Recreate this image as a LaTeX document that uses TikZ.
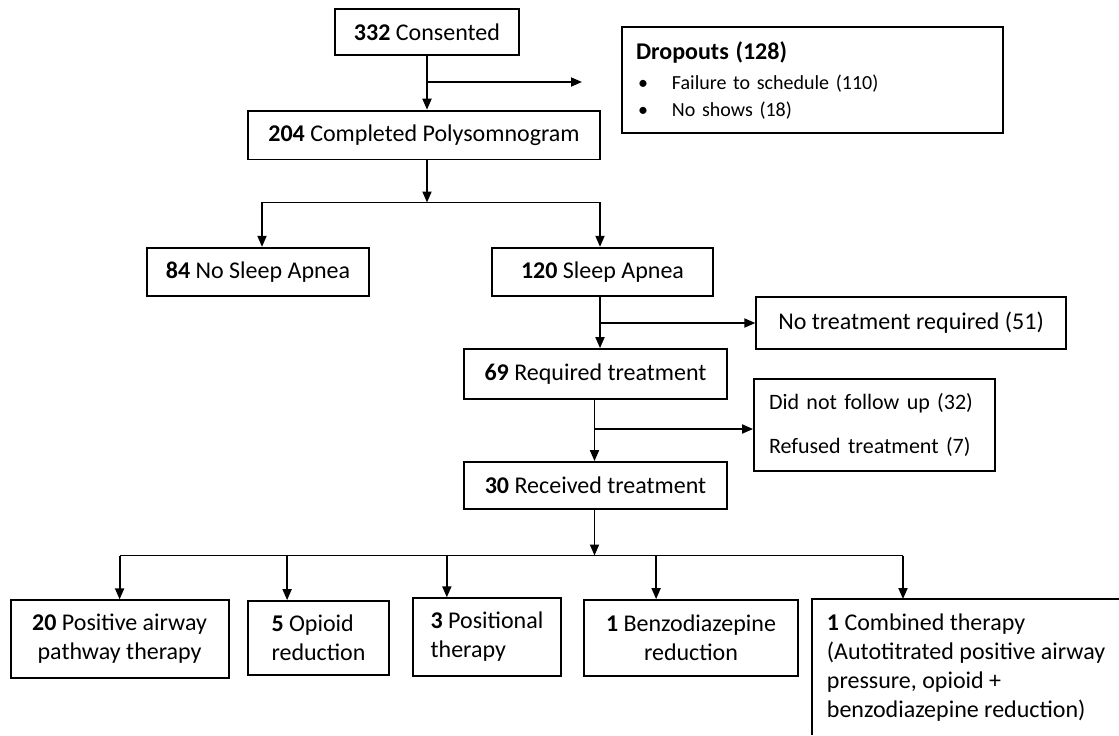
\documentclass[tikz,border=0pt]{standalone}
\usepackage{fontspec}
\setmainfont{Carlito}
\usetikzlibrary{arrows.meta,positioning}

\begin{document}
\begin{tikzpicture}[
    >={Triangle[length=5.5pt,width=4.5pt]},
    % 以像素為單位 (1px = 0.5pt, y 向下)
    x=0.5pt, y=-0.5pt,
    line width=0.9pt,
    box/.style={draw, line width=0.9pt, inner sep=7pt, font=\fontsize{12}{14.5}\selectfont},
]
    % --- 0. 畫布大小 ---
    \useasboundingbox (0,0) rectangle (1119,735);

    % --- 1. 上半部方框 ---
    \node[box, minimum width=92pt, minimum height=22.75pt] (consented) at (427,32) {\textbf{332} Consented};

    \node[box, minimum width=190.5pt, minimum height=50pt, text width=176.5pt, align=left,
          font=\fontsize{10}{13.5}\selectfont] (dropouts) at (812.5,80) {
        {\fontsize{12}{14.5}\selectfont\textbf{Dropouts (128)}}\\[1.5pt]
        \hspace*{1pt}\makebox[17pt][l]{\textbullet}Failure to schedule (110)\\
        \hspace*{1pt}\makebox[17pt][l]{\textbullet}No shows (18)
    };

    \node[box, minimum width=176pt, minimum height=24.25pt] (poly) at (424,135) {\textbf{204} Completed Polysomnogram};

    \node[box, minimum width=111pt, minimum height=24.25pt] (noApnea) at (258,272) {\textbf{84} No Sleep Apnea};
    \node[box, minimum width=110.5pt, minimum height=24pt] (apnea) at (602.5,272) {\textbf{120} Sleep Apnea};

    % --- 2. 中段方框 ---
    \node[box, minimum width=154.75pt, minimum height=26pt] (noTreat) at (911,323) {No treatment required (51)};
    \node[box, minimum width=131.5pt, minimum height=25pt] (required) at (595.5,374) {\textbf{69} Required treatment};

    \node[box, minimum width=120.5pt, minimum height=46pt, inner xsep=7.5pt, text width=105.5pt, align=left,
          font=\fontsize{11}{13.5}\selectfont] (noFollow) at (874.5,425) {
        Did not follow up (32)\\[8.5pt]
        Refused treatment (7)
    };

    \node[box, minimum width=131.5pt, minimum height=23.5pt] (received) at (595.5,485.5) {\textbf{30} Received treatment};

    % --- 3. 底部治療方框 ---
    \node[box, minimum width=109pt, minimum height=38pt, align=center] (pap) at (119.6,639) {\textbf{20} Positive airway\\pathway therapy};
    \node[box, minimum width=70.5pt, minimum height=37pt, align=left] (opioid) at (318.5,638) {\textbf{5} Opioid\\reduction};
    \node[box, minimum width=74.25pt, minimum height=38pt, align=left] (positional) at (487,637) {\textbf{3} Positional\\therapy};
    \node[box, minimum width=107pt, minimum height=38pt, align=center] (benzo) at (691,638) {\textbf{1} Benzodiazepine\\reduction};

    % 最右邊方框超出畫面 (只畫上緣和左緣)
    \node[box, draw=none, anchor=north west, align=left] (combined) at (812,599) {
        \textbf{1} Combined therapy\\
        (Autotitrated positive airway\\
        pressure, opioid +\\
        benzodiazepine reduction)
    };
    \coordinate (pageBR) at (1119,735);
    \draw (combined.north west |- pageBR) -- (combined.north west) -- (combined.north west -| pageBR);

    % --- 4. 連接箭頭 ---

    % Consented -> Polysomnogram, 分支到 Dropouts
    \coordinate (dropArrow) at (582,82);
    \draw[->] (consented) -- (consented.south |- poly.north);
    \draw[->] (consented.south |- dropArrow) -- (dropArrow);

    % Polysomnogram -> 兩個結果
    \coordinate (split) at (427,202.5);
    \draw[->] (consented.south |- poly.south) -- (split);
    \draw[->] (split) -| ([xshift=2pt]noApnea.north);
    \draw[->] (split) -| ([xshift=-1.25pt]apnea.north);

    % Sleep Apnea -> Required treatment
    \coordinate (apneaOut) at ([xshift=-1.25pt]apnea.south);
    \draw[->] (apneaOut) -- (apneaOut |- required.north);
    \draw[->] (apneaOut |- noTreat.west) -- (noTreat.west);

    % Required -> Received
    \coordinate (followIn) at ([yshift=-2pt]noFollow.west);
    \draw[->] ([xshift=-0.5pt]required.south) -- ([xshift=-0.5pt]required.south |- received.north);
    \draw[->] ([xshift=-0.5pt]required.south |- followIn) -- (followIn);

    % Received -> 五種治療
    \coordinate (level) at (0,555.5);
    \coordinate (tipOpioid) at ([xshift=20pt]opioid.north west);
    \coordinate (tipPositional) at ([xshift=17.5pt]positional.north west);
    \coordinate (tipBenzo) at ([xshift=36.5pt]benzo.north west);
    \coordinate (tipCombined) at ([xshift=45.5pt]combined.north west);

    \draw[->] ([xshift=-0.5pt]received.south) -- ([xshift=-0.5pt]received.south |- level);
    \draw (pap.north |- level) -- (tipCombined |- level);
    \foreach \t in {pap.north, tipOpioid, tipPositional, tipBenzo, tipCombined}
        \draw[->] (\t |- level) -- (\t);

\end{tikzpicture}
\end{document}
